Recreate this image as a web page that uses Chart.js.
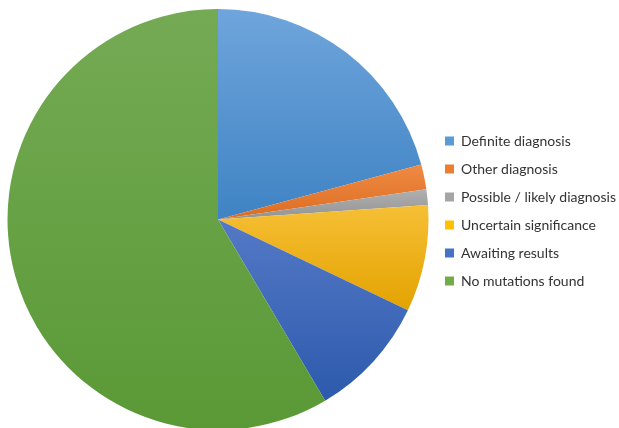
<!DOCTYPE html>
<html lang="en">
<head>
    <meta charset="UTF-8">
    <title>Diagnosis outcome</title>
    <script src="https://cdn.jsdelivr.net/npm/chart.js"></script>
    <style>
        html, body { margin: 0; padding: 0; background: #fff; overflow: hidden; }
        .chart_box { position: relative; width: 619px; height: 430px; }
    </style>
</head>
<body>
    <div class="chart_box">
        <canvas id="outcome"></canvas>
    </div>

<script>
var categories = ['Definite diagnosis', 'Other diagnosis', 'Possible / likely diagnosis',
                  'Uncertain significance', 'Awaiting results', 'No mutations found'];
var shares = [20.8, 1.9, 1.2, 8.2, 9.4, 58.5];

var baseColors  = ['#5b9bd5', '#ed7d31', '#a5a5a5', '#ffc000', '#4472c4', '#70ad47'];
var lightColors = ['#6fa5dc', '#f08a43', '#b0b0b0', '#f6bf35', '#5479c6', '#74aa54'];
var darkColors  = ['#3f83c4', '#dc6d22', '#939393', '#e3a300', '#2d5aad', '#5a9936'];

// vertical gradient over the bounds of each slice (office style fill)
function sliceFill(context) {
    var chart = context.chart;
    var area = chart.chartArea;
    var i = context.dataIndex;
    if (!area || i === undefined) return baseColors[i] || '#ccc';
    var cx = (area.left + area.right) / 2;
    var cy = (area.top + area.bottom) / 2;
    var r = Math.min(area.right - area.left, area.bottom - area.top) / 2;
    var total = shares.reduce((a, b) => a + b, 0);
    var before = shares.slice(0, i).reduce((a, b) => a + b, 0);
    var a0 = -Math.PI / 2 + 2 * Math.PI * before / total;
    var a1 = a0 + 2 * Math.PI * shares[i] / total;
    var ys = [cy, cy + r * Math.sin(a0), cy + r * Math.sin(a1)];
    if (a0 <= Math.PI / 2 && a1 >= Math.PI / 2) ys.push(cy + r);
    if (a0 <= -Math.PI / 2 || a1 >= 1.5 * Math.PI) ys.push(cy - r);
    var g = chart.ctx.createLinearGradient(0, Math.min(...ys), 0, Math.max(...ys));
    g.addColorStop(0, lightColors[i]);
    g.addColorStop(1, darkColors[i]);
    return g;
}

// lift the legend block a little above the pie centre
var nudgeLegend = {
    id: 'nudgeLegend',
    afterLayout(chart) {
        chart.legend.top -= 8.5;
        chart.legend.bottom -= 8.5;
    }
};

new Chart(document.getElementById('outcome'), {
    type: 'pie',
    data: {
        labels: categories,
        datasets: [{
            data: shares,
            backgroundColor: sliceFill,
            borderWidth: 0
        }]
    },
    options: {
        responsive: true,
        maintainAspectRatio: false,
        animation: false,
        layout: {
            padding: { left: 5, top: 9, right: 0, bottom: 0 }
        },
        plugins: {
            tooltip: { enabled: false },
            legend: {
                position: 'right',
                maxWidth: 188,
                labels: {
                    boxWidth: 9,
                    boxHeight: 9,
                    padding: 14,
                    color: '#333333',
                    font: { family: 'Lato', size: 14 },
                    generateLabels: function (chart) {
                        var items = Chart.overrides.pie.plugins.legend.labels.generateLabels(chart);
                        items.forEach((item, i) => {
                            item.fillStyle = baseColors[i];
                            item.strokeStyle = baseColors[i];
                            item.lineWidth = 0;
                        });
                        return items;
                    }
                }
            }
        }
    },
    plugins: [nudgeLegend]
});
</script>
</body>
</html>
